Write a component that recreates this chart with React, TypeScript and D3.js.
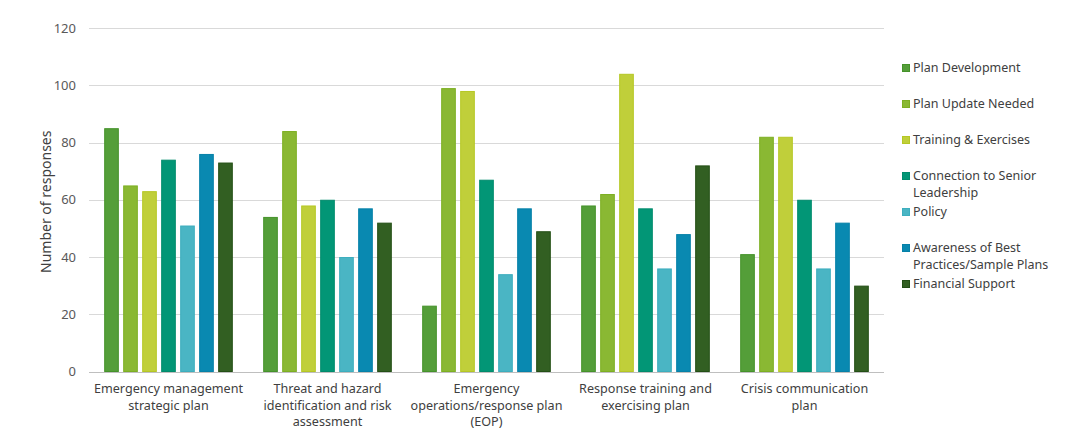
import React, { useEffect, useRef } from 'react';
import * as d3 from 'd3';

const categories = [
  ['Emergency management', 'strategic plan'],
  ['Threat and hazard', 'identification and risk', 'assessment'],
  ['Emergency', 'operations/response plan', '(EOP)'],
  ['Response training and', 'exercising plan'],
  ['Crisis communication', 'plan'],
];

const seriesNames = [
  'Plan Development',
  'Plan Update Needed',
  'Training & Exercises',
  'Connection to Senior Leadership',
  'Policy',
  'Awareness of Best Practices/Sample Plans',
  'Financial Support',
];

const legendLines = [
  ['Plan Development'],
  ['Plan Update Needed'],
  ['Training & Exercises'],
  ['Connection to Senior', 'Leadership'],
  ['Policy'],
  ['Awareness of Best', 'Practices/Sample Plans'],
  ['Financial Support'],
];

// values per series, one per category
const planDevelopment = [85, 54, 23, 58, 41];
const planUpdateNeeded = [65, 84, 99, 62, 82];
const trainingExercises = [63, 58, 98, 104, 82];
const connectionLeadership = [74, 60, 67, 57, 60];
const policy = [51, 40, 34, 36, 36];
const awarenessBestPractices = [76, 57, 57, 48, 52];
const financialSupport = [73, 52, 49, 72, 30];

const seriesValues = [
  planDevelopment,
  planUpdateNeeded,
  trainingExercises,
  connectionLeadership,
  policy,
  awarenessBestPractices,
  financialSupport,
];

const yTicks = [0, 20, 40, 60, 80, 100, 120];

const fills = ['#549E39', '#8AB833', '#C0CF3A', '#029676', '#4AB5C4', '#0989B1', '#325F22'];
const strokes = ['#45922A', '#7DAF22', '#B5C724', '#018B6C', '#3DAEBE', '#0681A8', '#234F15'];

export default function App() {
  const ref = useRef<SVGSVGElement>(null);

  useEffect(() => {
    const width = 1074;
    const height = 440;
    const margin = { top: 28, right: 190, bottom: 68, left: 89 };
    const font = "'Noto Sans', 'DejaVu Sans', sans-serif";

    const svg = d3.select(ref.current);
    svg.selectAll('*').remove();

    const catIdx = categories.map((_, i) => String(i));
    const x0 = d3
      .scaleBand()
      .domain(catIdx)
      .range([margin.left, width - margin.right])
      .paddingInner(0)
      .paddingOuter(0);

    const x1 = d3
      .scaleBand()
      .domain(seriesNames)
      .range([0, x0.bandwidth()])
      .paddingInner(0.23)
      .paddingOuter(0.8);

    const y = d3
      .scaleLinear()
      .domain([0, 120])
      .range([height - margin.bottom - 0.5, margin.top]);

    // gridlines
    svg
      .append('g')
      .selectAll('line')
      .data(yTicks)
      .join('line')
      .attr('x1', margin.left)
      .attr('x2', width - margin.right)
      .attr('y1', (d) => Math.round(y(d)) + 0.5)
      .attr('y2', (d) => Math.round(y(d)) + 0.5)
      .attr('stroke', (d) => (d === 0 ? '#BFBFBF' : '#D9D9D9'))
      .attr('stroke-width', 1);

    // y tick labels
    svg
      .append('g')
      .selectAll('text')
      .data(yTicks)
      .join('text')
      .attr('x', margin.left - 13)
      .attr('y', (d) => y(d))
      .attr('dy', '0.35em')
      .attr('text-anchor', 'end')
      .attr('font-family', font)
      .attr('font-size', 13)
      .attr('fill', '#595959')
      .text((d) => d);

    // y axis title
    svg
      .append('text')
      .attr('transform', `translate(46,${(y(0) + y(120)) / 2 + 2}) rotate(-90)`)
      .attr('dy', '0.35em')
      .attr('text-anchor', 'middle')
      .attr('font-family', font)
      .attr('font-size', 14)
      .attr('fill', '#404040')
      .text('Number of responses');

    // bars
    seriesNames.forEach((name, s) => {
      svg
        .append('g')
        .selectAll('rect')
        .data(seriesValues[s])
        .join('rect')
        .attr('x', (_, i) => (x0(String(i)) as number) + (x1(name) as number) + 0.5)
        .attr('y', (d) => y(d) + 0.5)
        .attr('width', x1.bandwidth() - 1)
        .attr('height', (d) => y(0) - y(d) - 0.5)
        .attr('fill', fills[s])
        .attr('stroke', strokes[s])
        .attr('stroke-width', 1);
    });

    // category labels
    const catG = svg
      .append('g')
      .selectAll('text')
      .data(categories)
      .join('text')
      .attr('x', (_, i) => (x0(String(i)) as number) + x0.bandwidth() / 2)
      .attr('y', height - margin.bottom + 21)
      .attr('text-anchor', 'middle')
      .attr('font-family', font)
      .attr('font-size', 12.6)
      .attr('fill', '#404040');

    catG
      .selectAll('tspan')
      .data((d) => d)
      .join('tspan')
      .attr('x', function () {
        return (this.parentNode as SVGTextElement).getAttribute('x');
      })
      .attr('dy', (_, j) => (j === 0 ? 0 : 16.5))
      .text((d) => d);

    // legend
    const legend = svg
      .append('g')
      .selectAll('g')
      .data(legendLines)
      .join('g')
      .attr('transform', (_, i) => `translate(902,${68 + i * 36})`);

    legend
      .append('rect')
      .attr('x', 0.5)
      .attr('y', -3.5)
      .attr('width', 7)
      .attr('height', 7)
      .attr('fill', (_, i) => fills[i])
      .attr('stroke', (_, i) => strokes[i]);

    legend
      .append('text')
      .attr('x', 11)
      .attr('y', 0)
      .attr('dy', '0.35em')
      .attr('font-family', font)
      .attr('font-size', 12.5)
      .attr('fill', '#404040')
      .selectAll('tspan')
      .data((d) => d)
      .join('tspan')
      .attr('x', 11)
      .attr('dy', (_, j) => (j === 0 ? '0.35em' : 16.5))
      .text((d) => d);
  }, []);

  return (
    <svg
      ref={ref}
      width={1074}
      height={440}
      style={{ position: 'absolute', left: 0, top: 0, background: '#fff' }}
    />
  );
}
